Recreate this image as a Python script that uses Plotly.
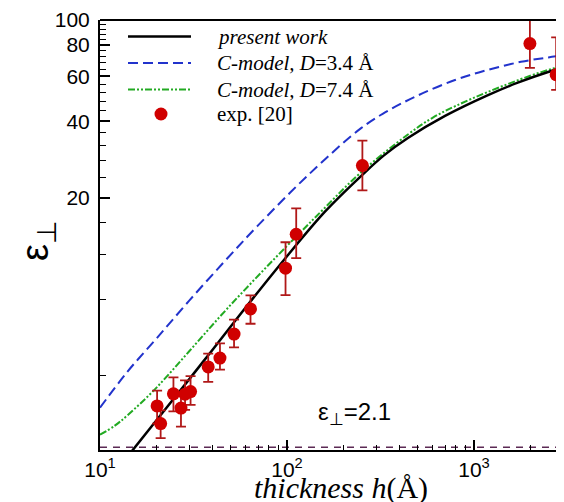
import plotly.graph_objects as go

# ---------------- data ----------------
h_present = [14, 15, 20, 31, 40, 64, 98, 160, 252, 330, 443, 700, 1188, 1700, 2489, 3400]
eps_present = [1.92, 2.05, 2.67, 4.0, 5.07, 7.87, 11.6, 17.7, 24.6, 29.4, 34.4, 42.0, 50.7, 56.6, 62.5, 66.7]

h_c34 = [10, 14, 20, 30, 46.5, 70, 129, 249, 347, 500, 791, 1188, 1782, 2500, 3400]
eps_c34 = [3.0, 4.15, 5.6, 7.9, 11.3, 15.6, 24.5, 37.6, 44.0, 50.5, 58.1, 63.7, 68.5, 71.3, 73.5]

h_c74 = [10, 12, 14.1, 19.7, 30, 48.3, 86.3, 150, 250, 443, 600, 800, 1188, 2000, 2710, 3400]
eps_c74 = [2.35, 2.55, 2.81, 3.55, 5.0, 7.4, 11.6, 17.5, 25.3, 35.5, 41.3, 46.0, 52.2, 60.4, 64.8, 67.6]

h_exp = [20.2, 21.1, 24.7, 27.1, 28.5, 30.5, 37.9, 43.8, 52.1, 63.8, 98.2, 112, 253, 1990, 2750, 3070]
eps_exp = [3.05, 2.60, 3.40, 2.99, 3.39, 3.47, 4.34, 4.70, 5.84, 7.33, 10.6, 14.4, 26.8, 80.8, 61.0, 58.9]
err_plus = [0.45, 0.33, 0.55, 0.45, 0.45, 0.52, 0.55, 0.67, 0.81, 0.96, 2.8, 3.8, 6.8, 20, 24.5, 20.7]
err_minus = [0.45, 0.32, 0.50, 0.46, 0.45, 0.39, 0.55, 0.47, 0.66, 0.92, 2.3, 2.8, 5.4, 16, 7.8, 7.9]

h_limit = [10, 3400]
eps_limit = [2.1, 2.1]

x_major = [10, 100, 1000]
x_major_text = ["10<sup>1</sup>", "10<sup>2</sup>", "10<sup>3</sup>"]
x_minor = [20, 30, 40, 50, 60, 70, 80, 90, 200, 300, 400, 500, 600, 700, 800, 900, 2000, 3000]
y_major = [20, 40, 60, 80, 100]
y_major_text = ["20", "40", "60", "80", "100"]
y_minor = [4, 8, 12, 16, 24, 28, 32, 36, 44, 48, 52, 56, 64, 68, 72, 76, 84, 88, 92, 96]

legend_labels = ["<i>present work</i>", "<i>C-model, D</i>=3.4 Å", "<i>C-model, D</i>=7.4 Å", "exp. [20]"]

# ---------------- styles ----------------
BLACK = "#000000"
BLUE = "#2233cc"
GREEN = "#22aa22"
RED = "#d00000"
ERR = "#b01818"
PURPLE = "#5c2a55"
BLUE_DASH = "10px,5px"
GREEN_DASH = "7px,2px,2px,2px,2px,2px"

fig = go.Figure()

fig.add_trace(go.Scatter(x=h_limit, y=eps_limit, mode="lines",
                         line=dict(color=PURPLE, width=1.5, dash="7px,6px"),
                         showlegend=False, hoverinfo="skip"))
fig.add_trace(go.Scatter(x=h_c34, y=eps_c34, mode="lines",
                         line=dict(color=BLUE, width=2, dash=BLUE_DASH, shape="spline", smoothing=1.0),
                         showlegend=False))
fig.add_trace(go.Scatter(x=h_c74, y=eps_c74, mode="lines",
                         line=dict(color=GREEN, width=2, dash=GREEN_DASH, shape="spline", smoothing=1.0),
                         showlegend=False))
fig.add_trace(go.Scatter(x=h_present, y=eps_present, mode="lines",
                         line=dict(color=BLACK, width=2.5, shape="spline", smoothing=1.0),
                         showlegend=False))
fig.add_trace(go.Scatter(x=h_exp, y=eps_exp, mode="markers",
                         marker=dict(color=RED, size=13, line=dict(width=0)),
                         error_y=dict(type="data", symmetric=False, array=err_plus, arrayminus=err_minus,
                                      color=ERR, thickness=1.8, width=5),
                         showlegend=False))

# ---------------- layout ----------------
W, H = 564, 502
ML, MR, MT, MB = 92, 0, 12, 60
PW, PH = W - ML - MR, H - MT - MB

def px_x(p):
    return (p - ML) / PW

def px_y(p):
    return (H - MB - p) / PH

shapes = [dict(type="line", xref="paper", yref="paper", x0=0, x1=1, y0=1, y1=1,
               line=dict(color=BLACK, width=2))]
annotations = []

# custom legend
rows = [28.5, 55, 81.5, 106]
line_styles = [(BLACK, 2.5, "solid"), (BLUE, 2, BLUE_DASH), (GREEN, 2, GREEN_DASH)]
for i, (col, wd, ds) in enumerate(line_styles):
    shapes.append(dict(type="line", xref="paper", yref="paper",
                       x0=px_x(120), x1=px_x(183), y0=px_y(rows[i]), y1=px_y(rows[i]),
                       line=dict(color=col, width=wd, dash=ds)))
r = 6.5
shapes.append(dict(type="circle", xref="paper", yref="paper",
                   x0=px_x(153 - r), x1=px_x(153 + r), y0=px_y(rows[3] + r), y1=px_y(rows[3] - r),
                   fillcolor=RED, line=dict(width=0)))
for i, lab in enumerate(legend_labels):
    annotations.append(dict(text=lab, xref="paper", yref="paper", x=px_x(207), y=px_y(rows[i]),
                            xanchor="left", yanchor="middle", showarrow=False,
                            font=dict(family="Liberation Serif", size=21, color=BLACK)))

# axis titles
annotations.append(dict(text="<i>thickness h</i>(Å)", xref="paper", yref="paper",
                        x=px_x(333), y=px_y(480), xanchor="center", yanchor="middle", showarrow=False,
                        font=dict(family="Liberation Serif", size=30, color=BLACK)))
annotations.append(dict(text="ε<sub>⊥</sub>", xref="paper", yref="paper", textangle=-90,
                        x=px_x(30), y=px_y(232), xanchor="center", yanchor="middle", showarrow=False,
                        font=dict(family="Liberation Sans", size=38, color=BLACK)))
annotations.append(dict(text="ε<sub>⊥</sub>=2.1", xref="paper", yref="paper",
                        x=px_x(308), y=px_y(405), xanchor="left", yanchor="middle", showarrow=False,
                        font=dict(family="Liberation Sans", size=24, color=BLACK)))

fig.update_layout(
    width=W, height=H,
    margin=dict(l=ML, r=MR, t=MT, b=MB, pad=0),
    paper_bgcolor="white", plot_bgcolor="white",
    showlegend=False,
    font=dict(family="Liberation Sans", size=21, color=BLACK),
    shapes=shapes, annotations=annotations,
    xaxis=dict(type="log", range=[1, 3.524], showgrid=False, zeroline=False,
               showline=True, linecolor=BLACK, linewidth=2,
               ticks="inside", ticklen=10, tickwidth=1.5, tickcolor=BLACK,
               tickmode="array", tickvals=x_major, ticktext=x_major_text,
               tickfont=dict(family="Liberation Sans", size=21, color=BLACK),
               minor=dict(tickmode="array", tickvals=x_minor, ticks="inside", ticklen=5,
                          tickwidth=1.2, tickcolor=BLACK, showgrid=False)),
    yaxis=dict(type="log", range=[0.311, 2.0], showgrid=False, zeroline=False,
               showline=True, linecolor=BLACK, linewidth=2,
               ticks="inside", ticklen=10, tickwidth=1.5, tickcolor=BLACK,
               tickmode="array", tickvals=y_major, ticktext=y_major_text,
               ticklabelstandoff=4,
               tickfont=dict(family="Liberation Sans", size=21, color=BLACK),
               minor=dict(tickmode="array", tickvals=y_minor, ticks="inside", ticklen=6,
                          tickwidth=1.2, tickcolor=BLACK, showgrid=False)),
)

fig.write_html("out.html")
